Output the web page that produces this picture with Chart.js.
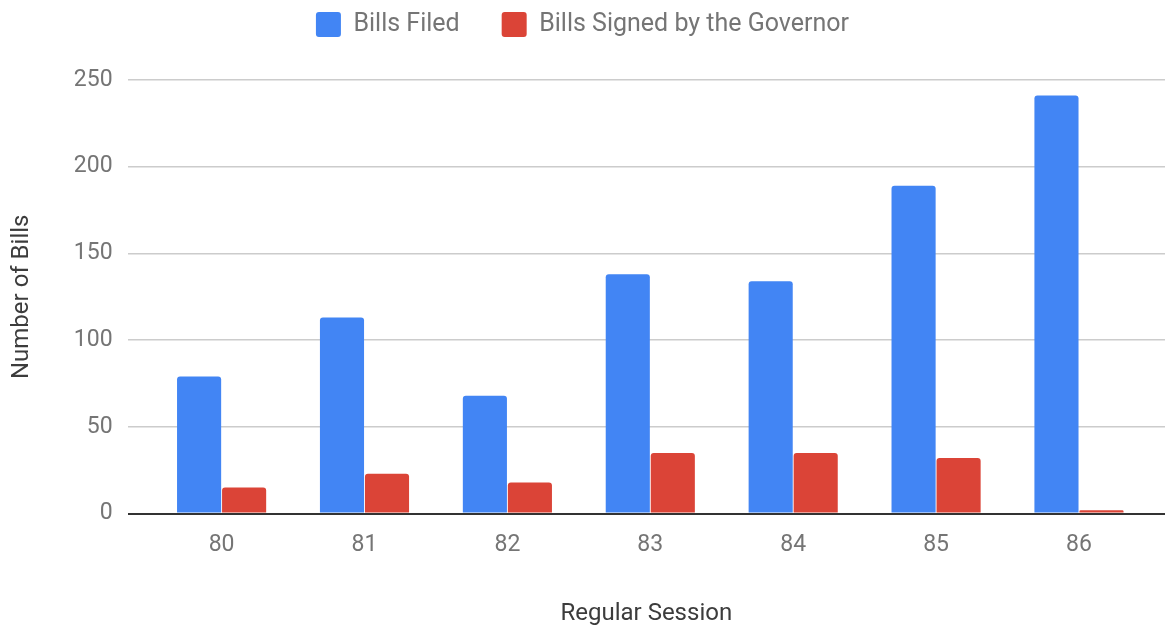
<!DOCTYPE html>
<html>
<head>
<meta charset="utf-8">
<script src="https://cdn.jsdelivr.net/npm/chart.js@4"></script>
<style>
  html, body { margin: 0; padding: 0; background: #fff; }
  #wrap { width: 1165px; height: 626px; }
</style>
</head>
<body>
<div id="wrap"><canvas id="billsChart"></canvas></div>
<script>
// regular sessions and bill counts
const sessions = [80, 81, 82, 83, 84, 85, 86];
const billsFiled = [79, 113, 68, 138, 134, 189, 241];
const billsSigned = [15, 23, 18, 35, 35, 32, 2];
const yTicks = [0, 50, 100, 150, 200, 250];

const toPoints = (vals) => vals.map((v, i) => ({x: sessions[i], y: v}));

Chart.defaults.font.family = "Roboto";

const ctx = document.getElementById('billsChart');
const chart = new Chart(ctx, {
  type: 'bar',
  data: {
    datasets: [{
      label: 'Bills Filed',
      data: toPoints(billsFiled),
      backgroundColor: '#4285f4',
      borderRadius: 3,
      borderSkipped: 'start',
      categoryPercentage: 0.63,
      barPercentage: 0.98
    }, {
      label: 'Bills Signed by the Governor',
      data: toPoints(billsSigned),
      backgroundColor: '#db4437',
      borderRadius: 3,
      borderSkipped: 'start',
      categoryPercentage: 0.63,
      barPercentage: 0.98
    }]
  },
  options: {
    responsive: true,
    maintainAspectRatio: false,
    animation: false,
    layout: { padding: { top: -30, right: 0, bottom: -4, left: 0 } },
    plugins: {
      tooltip: { enabled: false },
      legend: {
        position: 'top',
        labels: {
          font: { size: 25 },
          color: '#757575',
          boxWidth: 25,
          boxHeight: 25,
          useBorderRadius: true,
          borderRadius: 3,
          padding: 42
        }
      },
      // empty title used only as a spacer between legend and plot
      title: {
        display: true,
        text: '',
        weight: 500,
        font: { size: 10 },
        padding: { top: 0, bottom: 21 }
      }
    },
    scales: {
      x: {
        type: 'linear',
        offset: false,
        min: 79.342,
        max: 86.602,
        afterBuildTicks: (axis) => { axis.ticks = sessions.map(v => ({value: v})); },
        grid: { display: false, drawTicks: false },
        border: { display: false },
        ticks: {
          font: { size: 23 },
          color: '#757575',
          padding: 18,
          callback: (v) => String(v)
        },
        title: {
          display: true,
          text: 'Regular Session',
          font: { size: 24 },
          color: '#3c3c3c',
          padding: { top: 22, bottom: 2 }
        }
      },
      y: {
        min: 0,
        max: 250,
        afterBuildTicks: (axis) => { axis.ticks = yTicks.map(v => ({value: v})); },
        grid: {
          drawTicks: false,
          color: (c) => c.tick && c.tick.value === 0 ? '#333' : '#cccccc',
          lineWidth: (c) => c.tick && c.tick.value === 0 ? 2 : 1.5
        },
        border: { display: false },
        ticks: {
          font: { size: 23 },
          color: '#757575',
          padding: 15
        },
        title: {
          display: true,
          text: 'Number of Bills',
          font: { size: 24 },
          color: '#3c3c3c',
          padding: { top: 8, bottom: 22 }
        }
      }
    }
  }
});
</script>
</body>
</html>
